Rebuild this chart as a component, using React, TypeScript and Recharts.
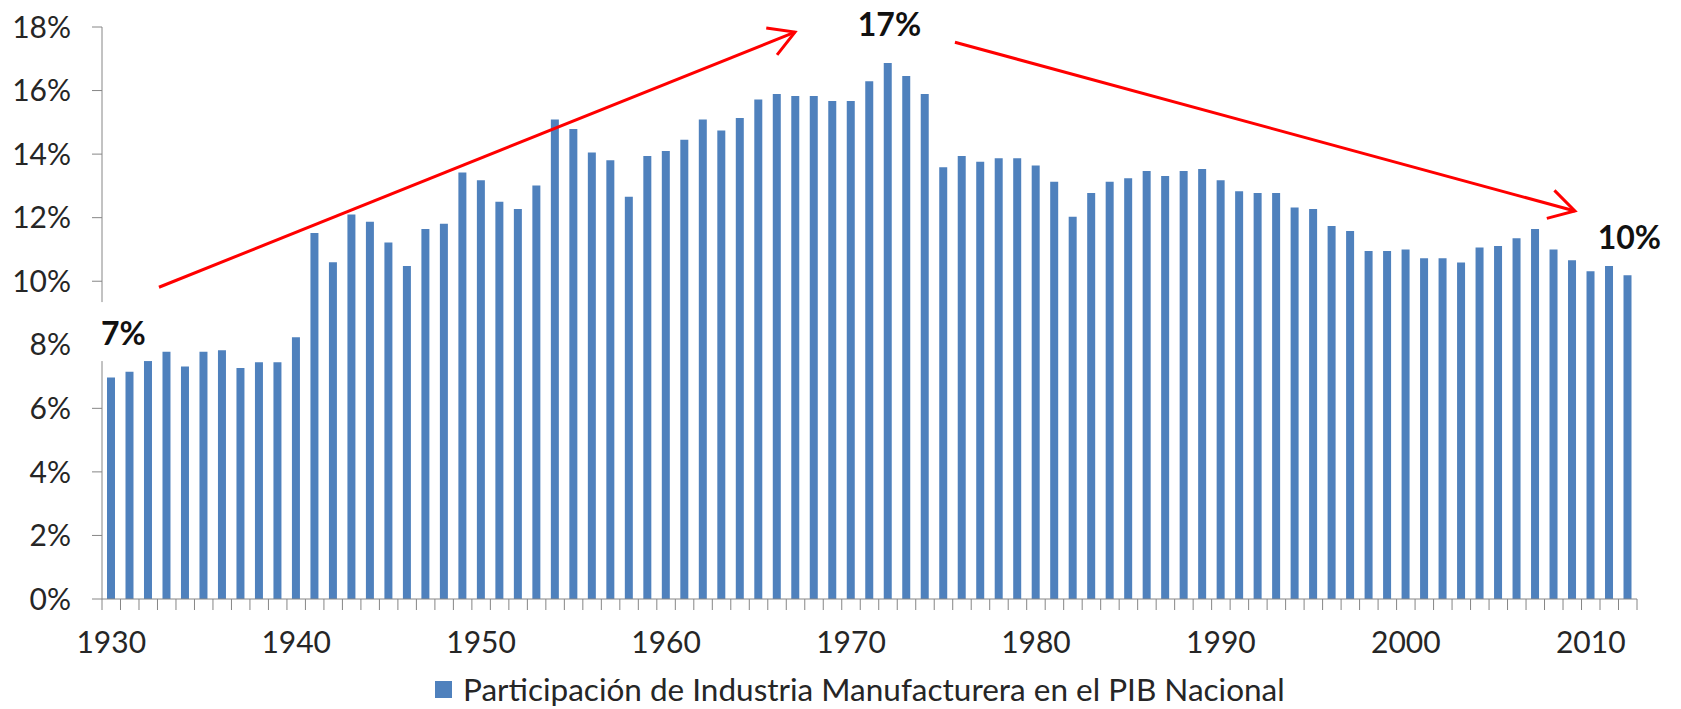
import {
  BarChart, Bar, XAxis, YAxis, Legend, ReferenceLine, ReferenceDot,
} from 'recharts'

const years = [
  1930, 1931, 1932, 1933, 1934, 1935, 1936, 1937, 1938, 1939,
  1940, 1941, 1942, 1943, 1944, 1945, 1946, 1947, 1948, 1949,
  1950, 1951, 1952, 1953, 1954, 1955, 1956, 1957, 1958, 1959,
  1960, 1961, 1962, 1963, 1964, 1965, 1966, 1967, 1968, 1969,
  1970, 1971, 1972, 1973, 1974, 1975, 1976, 1977, 1978, 1979,
  1980, 1981, 1982, 1983, 1984, 1985, 1986, 1987, 1988, 1989,
  1990, 1991, 1992, 1993, 1994, 1995, 1996, 1997, 1998, 1999,
  2000, 2001, 2002, 2003, 2004, 2005, 2006, 2007, 2008, 2009,
  2010, 2011, 2012,
]

// share of manufacturing in GDP, percent
const share = [
  6.97, 7.15, 7.49, 7.78, 7.32, 7.78, 7.83, 7.27, 7.45, 7.45,
  8.24, 11.52, 10.6, 12.1, 11.87, 11.22, 10.48, 11.64, 11.81, 13.42,
  13.18, 12.5, 12.27, 13.01, 15.09, 14.79, 14.05, 13.81, 12.66, 13.94,
  14.1, 14.45, 15.09, 14.74, 15.14, 15.72, 15.89, 15.83, 15.83, 15.67,
  15.67, 16.29, 16.87, 16.46, 15.89, 13.59, 13.94, 13.76, 13.87, 13.87,
  13.64, 13.13, 12.03, 12.78, 13.13, 13.24, 13.47, 13.31, 13.47, 13.53,
  13.18, 12.83, 12.78, 12.78, 12.32, 12.27, 11.74, 11.58, 10.95, 10.95,
  11.0, 10.72, 10.72, 10.59, 11.06, 11.11, 11.35, 11.64, 11.0, 10.66,
  10.31, 10.48, 10.19,
]

const yTicks = [0, 2, 4, 6, 8, 10, 12, 14, 16, 18]
const seriesName = 'Participación de Industria Manufacturera en el PIB Nacional'

// trend arrows (year position, percent) and callout labels
const arrows = [
  { from: { x: 1932.58, y: 9.81 }, to: { x: 1966.97, y: 17.84 } },
  { from: { x: 1975.62, y: 17.52 }, to: { x: 2009.14, y: 12.21 } },
]
const callouts = [
  { x: 1930.66, y: 8.4, text: '7%', box: true },
  { x: 1972.08, y: 18.1, text: '17%', box: false },
  { x: 2012.09, y: 11.42, text: '10%', box: false },
]

const data = years.map((year, i) => ({ year, share: share[i] }))

const FONT = 'Lato, "Open Sans", sans-serif'
const AXIS = '#868686'
const TEXT = '#262626'
const BLUE = '#4F81BD'
const RED = '#FF0000'

function YearTick(props: any) {
  const { x, y, payload, index, width, visibleTicksCount } = props
  const step = (width || 1535) / (visibleTicksCount || years.length)
  const isLast = index === years.length - 1
  const label = Number(payload.value) % 10 === 0
  return (
    <g>
      <line x1={x - step / 2} y1={y} x2={x - step / 2} y2={y + 11} stroke={AXIS} />
      {isLast && <line x1={x + step / 2} y1={y} x2={x + step / 2} y2={y + 11} stroke={AXIS} />}
      {label && (
        <text x={x} y={y + 54} textAnchor="middle" fill={TEXT} fontSize={30} fontFamily={FONT}>
          {payload.value}
        </text>
      )}
    </g>
  )
}

function Arrow(props: any) {
  const { x1, y1, x2, y2 } = props
  const ang = Math.atan2(y2 - y1, x2 - x1)
  const len = 29
  const spread = Math.PI / 6
  const a1 = ang + Math.PI - spread
  const a2 = ang + Math.PI + spread
  const p1 = `${x2 + len * Math.cos(a1)},${y2 + len * Math.sin(a1)}`
  const p2 = `${x2 + len * Math.cos(a2)},${y2 + len * Math.sin(a2)}`
  return (
    <g>
      <line x1={x1} y1={y1} x2={x2} y2={y2} stroke={RED} strokeWidth={3} />
      <polyline points={`${p1} ${x2},${y2} ${p2}`} fill="none" stroke={RED} strokeWidth={3} strokeLinejoin="miter" />
    </g>
  )
}

function calloutLabel(text: string, box: boolean) {
  return (props: any) => {
    const vb = props.viewBox || {}
    const cx = (vb.x || 0) + (vb.width || 0) / 2
    const cy = (vb.y || 0) + (vb.height || 0) / 2
    return (
      <g>
        {box && <rect x={cx - 38} y={cy - 30} width={66} height={59} fill="#fff" />}
        <text x={cx} y={cy} textAnchor="middle" dominantBaseline="central"
          fill="#111" fontSize={32} fontWeight={700} fontFamily={FONT}>
          {text}
        </text>
      </g>
    )
  }
}

function LegendBox(props: any) {
  const item = (props.payload || [])[0] || { value: seriesName, color: BLUE }
  return (
    <div style={{ height: 30, display: 'flex', alignItems: 'center', fontFamily: FONT, fontSize: 31.5, lineHeight: '30px', color: TEXT, whiteSpace: 'nowrap' }}>
      <span style={{ width: 17, height: 17, background: item.color || BLUE, marginRight: 11, display: 'inline-block' }} />
      <span>{item.value}</span>
    </div>
  )
}

export default function App() {
  return (
    <div style={{ position: 'absolute', left: 0, top: 0, width: 1681, height: 709, background: '#fff' }}>
      <BarChart width={1681} height={709} data={data}
        margin={{ top: 27, right: 44, left: 0, bottom: 0 }}>
        <XAxis dataKey="year" type="number" domain={[1929.5, 2012.5]} allowDataOverflow ticks={years}
          height={80} interval={0} tickLine={false} tickSize={0} tickMargin={0}
          axisLine={{ stroke: AXIS }} tick={<YearTick />} />
        <YAxis width={102} domain={[0, 18]} ticks={yTicks} interval={0} tickSize={10} tickMargin={21}
          axisLine={{ stroke: AXIS }} tickLine={{ stroke: AXIS }}
          tick={{ fill: TEXT, fontSize: 30, fontFamily: FONT }} tickFormatter={(v: number) => `${v}%`} />
        <Legend verticalAlign="bottom" align="left" content={<LegendBox />}
          wrapperStyle={{ left: 435, bottom: 5, width: 'auto' }} />
        <Bar dataKey="share" name={seriesName} fill={BLUE} barSize={8} isAnimationActive={false} />
        {arrows.map((a, i) => (
          <ReferenceLine key={'arrow' + i} segment={[a.from, a.to]} ifOverflow="visible"
            stroke={RED} strokeWidth={3} shape={<Arrow />} />
        ))}
        {callouts.map((c) => (
          <ReferenceDot key={c.text} x={c.x} y={c.y} r={1} fill="none" stroke="none"
            ifOverflow="visible" label={{ content: calloutLabel(c.text, c.box) }} />
        ))}
      </BarChart>
    </div>
  )
}
